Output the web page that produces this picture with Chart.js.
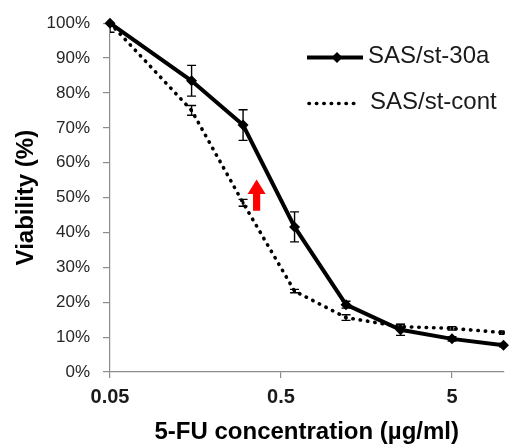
<!DOCTYPE html>
<html>
<head>
<meta charset="utf-8">
<script src="https://cdn.jsdelivr.net/npm/chart.js@4/dist/chart.umd.min.js"></script>
<style>
html,body{margin:0;padding:0;background:#fff;}
#wrap{width:509px;height:445px;position:relative;}
</style>
</head>
<body>
<div id="wrap"><canvas id="c" width="509" height="445"></canvas></div>
<script>
// ---- data ----
const concentrations = [0.05, 0.15, 0.3, 0.6, 1.2, 2.5, 5, 10];
const seriesNames = ['SAS/st-30a', 'SAS/st-cont'];
const viability30a = [100, 83.5, 70.8, 41.6, 19.3, 12.1, 9.5, 7.7];
const error30a =     [0,   4.4,  4.4,  4.3,  1.0,  1.6,  0.6, 0.5];
const viabilityCont = [100, 75.0, 48.5, 23.2, 15.6, 13.0, 12.5, 11.3];
const errorCont =     [2.6, 1.4,  1.0,  0.5,  0.8,  0.6,  0.5,  0.5];
const xTickValues = [0.05, 0.5, 5];
const xRange = [0.05, 10];
const yRange = [0, 100];
const yStep = 10;
const arrowAt = {x: 0.36, yBase: 46.2, yHeadBase: 51, yTip: 55.2};

const toPts = (ys) => concentrations.map((x, i) => ({x: x, y: ys[i]}));

const errorBarPlugin = {
  id: 'errorBars',
  afterDatasetsDraw(chart) {
    const {ctx, chartArea, scales} = chart;
    const errs = [error30a, errorCont];
    ctx.save();
    ctx.beginPath();
    ctx.rect(chartArea.left, chartArea.top - 0.5, chartArea.right - chartArea.left + 1, chartArea.bottom - chartArea.top + 1);
    ctx.clip();
    ctx.strokeStyle = '#000';
    ctx.lineWidth = 1.4;
    chart.data.datasets.forEach((ds, di) => {
      ds.data.forEach((p, i) => {
        const e = errs[di][i];
        if (!e) return;
        const x = scales.x.getPixelForValue(p.x);
        const y1 = scales.y.getPixelForValue(p.y + e);
        const y2 = scales.y.getPixelForValue(p.y - e);
        const cw = 4.5;
        ctx.beginPath();
        ctx.moveTo(x, y1); ctx.lineTo(x, y2);
        ctx.moveTo(x - cw, y1); ctx.lineTo(x + cw, y1);
        ctx.moveTo(x - cw, y2); ctx.lineTo(x + cw, y2);
        ctx.stroke();
      });
    });
    ctx.restore();
  }
};

const arrowPlugin = {
  id: 'arrow',
  afterDatasetsDraw(chart) {
    const {ctx, scales} = chart;
    const cx = scales.x.getPixelForValue(arrowAt.x);
    const yb = scales.y.getPixelForValue(arrowAt.yBase);
    const yh = scales.y.getPixelForValue(arrowAt.yHeadBase);
    const yt = scales.y.getPixelForValue(arrowAt.yTip);
    const sw = 3.6, hw = 9;
    ctx.save();
    ctx.fillStyle = '#ff0000';
    ctx.beginPath();
    ctx.moveTo(cx - sw, yb);
    ctx.lineTo(cx - sw, yh);
    ctx.lineTo(cx - hw, yh);
    ctx.lineTo(cx, yt);
    ctx.lineTo(cx + hw, yh);
    ctx.lineTo(cx + sw, yh);
    ctx.lineTo(cx + sw, yb);
    ctx.closePath();
    ctx.fill();
    ctx.restore();
  }
};

const legendPlugin = {
  id: 'customLegend',
  afterDraw(chart) {
    const ctx = chart.ctx;
    ctx.save();
    // solid entry
    ctx.strokeStyle = '#000';
    ctx.lineWidth = 4;
    ctx.beginPath(); ctx.moveTo(307, 57.5); ctx.lineTo(363, 57.5); ctx.stroke();
    ctx.fillStyle = '#000';
    ctx.beginPath();
    const dx = 337, dy = 57.5, r = 5.5;
    ctx.moveTo(dx, dy - r); ctx.lineTo(dx + r, dy); ctx.lineTo(dx, dy + r); ctx.lineTo(dx - r, dy); ctx.closePath(); ctx.fill();
    // dotted entry
    ctx.lineWidth = 3.6;
    ctx.lineCap = 'round';
    ctx.setLineDash([0.4, 7]);
    ctx.beginPath(); ctx.moveTo(309, 103.5); ctx.lineTo(357, 103.5); ctx.stroke();
    ctx.setLineDash([]);
    ctx.fillStyle = '#1a1a1a';
    ctx.font = '24px "Liberation Sans", Arial, sans-serif';
    ctx.textBaseline = 'middle';
    ctx.textAlign = 'left';
    ctx.fillText(seriesNames[0], 368, 56);
    ctx.fillText(seriesNames[1], 370, 102.5);
    ctx.restore();
  }
};

new Chart(document.getElementById('c'), {
  type: 'line',
  data: {
    datasets: [
      {
        label: seriesNames[0],
        data: toPts(viability30a),
        borderColor: '#000',
        backgroundColor: '#000',
        borderWidth: 4,
        pointStyle: 'rectRot',
        pointRadius: 5.5,
        pointBackgroundColor: '#000',
        pointBorderColor: '#000',
        pointBorderWidth: 0,
        tension: 0,
        clip: false
      },
      {
        label: seriesNames[1],
        data: toPts(viabilityCont),
        borderColor: '#000',
        backgroundColor: '#000',
        borderWidth: 3.6,
        borderDash: [0.4, 7],
        borderCapStyle: 'round',
        pointStyle: 'rect',
        pointRadius: 2,
        pointBackgroundColor: '#000',
        pointBorderColor: '#000',
        pointBorderWidth: 0,
        tension: 0,
        clip: false
      }
    ]
  },
  options: {
    responsive: false,
    animation: false,
    events: [],
    layout: {padding: {top: 19, right: 4, left: 0, bottom: 0}},
    plugins: {legend: {display: false}, tooltip: {enabled: false}},
    scales: {
      x: {
        type: 'logarithmic',
        min: xRange[0],
        max: xRange[1],
        afterBuildTicks(scale) { scale.ticks = xTickValues.map(v => ({value: v})); },
        afterFit(scale) { scale.height = 73; },
        border: {display: true, color: '#8c8c8c', width: 1.2},
        grid: {display: true, drawOnChartArea: false, drawTicks: true, tickLength: 6, color: '#8c8c8c', lineWidth: 1.2},
        ticks: {
          autoSkip: false,
          maxRotation: 0,
          padding: 7,
          color: '#1a1a1a',
          font: {family: '"Liberation Sans", Arial, sans-serif', size: 20, weight: 'bold'},
          callback: (v) => String(v)
        },
        title: {
          display: true,
          text: '5-FU concentration (µg/ml)',
          color: '#000',
          font: {family: '"Liberation Sans", Arial, sans-serif', size: 24, weight: 'bold', lineHeight: 1},
          padding: {top: 0, bottom: 1}
        }
      },
      y: {
        type: 'linear',
        min: yRange[0],
        max: yRange[1],
        afterFit(scale) { scale.width = 110; },
        border: {display: true, color: '#8c8c8c', width: 1.2},
        grid: {display: true, drawOnChartArea: false, drawTicks: true, tickLength: 7, color: '#8c8c8c', lineWidth: 1.2},
        ticks: {
          stepSize: yStep,
          padding: 13,
          color: '#262626',
          font: {family: '"Liberation Sans", Arial, sans-serif', size: 17},
          callback: (v) => v + '%'
        },
        title: {
          display: true,
          text: 'Viability (%)',
          color: '#000',
          font: {family: '"Liberation Sans", Arial, sans-serif', size: 24, weight: 'bold', lineHeight: 1},
          padding: {top: 14, bottom: 0}
        }
      }
    }
  },
  plugins: [errorBarPlugin, arrowPlugin, legendPlugin]
});
</script>
</body>
</html>
